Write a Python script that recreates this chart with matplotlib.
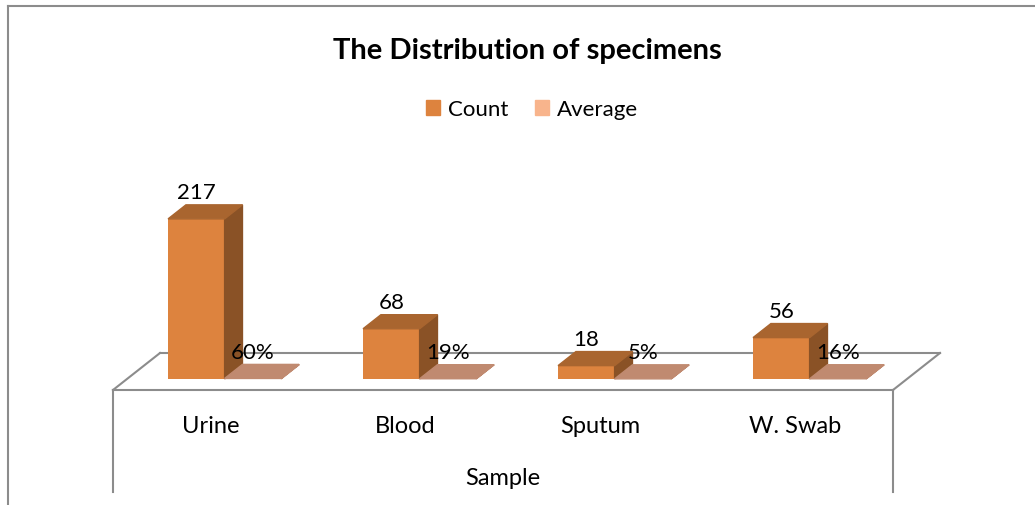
import numpy as np
import matplotlib.pyplot as plt
from matplotlib.patches import Polygon, Rectangle
from matplotlib.lines import Line2D

# data
categories = ['Urine', 'Blood', 'Sputum', 'W. Swab']
counts = [217, 68, 18, 56]
averages = [0.60, 0.19, 0.05, 0.16]
avg_labels = ['60%', '19%', '5%', '16%']

plt.rcParams['font.family'] = ['Lato', 'DejaVu Sans']

# colours
c_front = '#DD833E'
c_top = '#A9652F'
c_side = '#8A5226'
c_avg = '#F8B48C'
c_avg_top = '#C08A70'
c_grid = '#8C8C8C'

W, H = 1035, 506
fig = plt.figure(figsize=(W / 100, H / 100), dpi=100)

# pixel scale of the fake 3d box
sx = 195.0          # px per category
sy = 160.0 / 217.0  # px per count
ax = fig.add_axes([113 / W, (H - 493) / H, 780 / W, (493 - 150) / H])
ax.set_xlim(0, len(categories))
ax.set_ylim(-(493 - 391) / sy, (391 - 150) / sy)

# depth of the floor in data units, and where the bars sit in it
DX = 47 / sx
DY = 37 / sy
f0, f1 = 0.30, 0.68
ddx = (f1 - f0) * DX
ddy = (f1 - f0) * DY
w = 0.29

n = len(categories)
x = np.arange(n) + 0.5

# floor outline
ybot = ax.get_ylim()[0]
for xs, ys in [([DX, n + DX], [DY, DY]), ([0, DX], [0, DY]),
               ([n, n + DX], [0, DY]), ([0, 0], [0, ybot]),
               ([n, n], [0, ybot])]:
    ax.plot(xs, ys, color=c_grid, lw=1.5, zorder=1, clip_on=False)


def box(x0, h, front, top, side, z):
    b = f0 * DY
    x0 = x0 + f0 * DX
    x1 = x0 + w
    bar = ax.bar(x0, h, width=w, bottom=b, align='edge', color=front,
                 zorder=z)
    ax.add_patch(Polygon([(x1, b), (x1, b + h), (x1 + ddx, b + h + ddy),
                          (x1 + ddx, b + ddy)], closed=True, color=side,
                         zorder=z))
    ax.add_patch(Polygon([(x0, b + h), (x1, b + h), (x1 + ddx, b + h + ddy),
                          (x0 + ddx, b + h + ddy)], closed=True, color=top,
                         zorder=z))
    return bar, x0 + w / 2, b + h + ddy


for i in range(n):
    bar_c, xc, yt = box(x[i] - w, counts[i], c_front, c_top, c_side, 3 + 2 * i)
    ax.annotate(str(counts[i]), (xc, yt), xytext=(0, 2),
                textcoords='offset points', ha='center', va='bottom',
                fontsize=16, zorder=20)
    bar_a, xa, ya = box(x[i], averages[i], c_avg, c_avg_top, c_avg_top,
                        4 + 2 * i)
    ax.annotate(avg_labels[i], (xa, ya), xytext=(0, 2),
                textcoords='offset points', ha='center', va='bottom',
                fontsize=16, zorder=20)

# axis: front edge of the floor
for s in ['top', 'right', 'left']:
    ax.spines[s].set_visible(False)
ax.spines['bottom'].set_position(('data', 0))
ax.spines['bottom'].set_color(c_grid)
ax.spines['bottom'].set_linewidth(1.5)
ax.set_yticks([])
ax.set_xticks(x)
ax.set_xticklabels(categories, fontsize=17)
ax.tick_params(axis='x', length=0, pad=18)
ax.set_xlabel('Sample', fontsize=17, labelpad=22)
ax.patch.set_visible(False)

# chart border
fig.add_artist(Line2D([8 / W, 8 / W], [0, 1 - 7 / H], color=c_grid, lw=1.5))
fig.add_artist(Line2D([8 / W, 1], [1 - 7 / H, 1 - 7 / H], color=c_grid, lw=1.5))

fig.text(0.51, 1 - 51 / H, 'The Distribution of specimens', ha='center',
         va='center', fontsize=21, fontweight='bold')

fig.legend([Rectangle((0, 0), 1, 1, color=c_front),
            Rectangle((0, 0), 1, 1, color=c_avg)], ['Count', 'Average'],
           loc='center', bbox_to_anchor=(532 / W, 1 - 110 / H), ncol=2,
           frameon=False, fontsize=16, handlelength=0.65, handleheight=0.65,
           handletextpad=0.35, columnspacing=1.2)

fig.savefig('out.png', dpi=100)
plt.close()
